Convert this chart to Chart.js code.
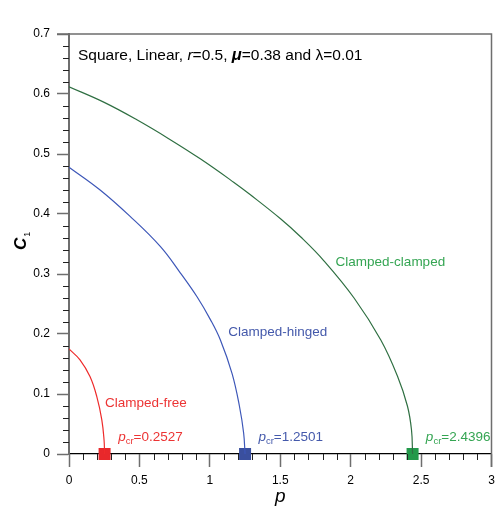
<!DOCTYPE html>
<html lang="en">
<head>
    <meta charset="UTF-8">
    <title>critical load curves</title>
    <style>
        body { margin: 0; background: #fff; overflow: hidden; }
        #wrap { width: 500px; height: 514px; }
    </style>
</head>
<body>
    <div id="wrap"><canvas id="myChart"></canvas></div>

    <script src="https://cdn.jsdelivr.net/npm/chart.js"></script>
    <script>
        // values
        const pFree = [0, 0.078, 0.149, 0.197, 0.233, 0.249, 0.2527];
        const cFree = [0.175, 0.157, 0.129, 0.096, 0.057, 0.023, 0];

        const pHinged = [0, 0.221, 0.434, 0.648, 0.79, 0.909, 1.004, 1.075, 1.158, 1.21, 1.24, 1.2501];
        const cHinged = [0.478, 0.44, 0.396, 0.346, 0.302, 0.262, 0.224, 0.19, 0.134, 0.08, 0.035, 0];

        const pClamped = [0, 0.25, 0.482, 0.705, 0.932, 1.169, 1.288, 1.502, 1.644, 1.81, 2.024, 2.214, 2.332, 2.403, 2.432, 2.4396];
        const cClamped = [0.612, 0.586, 0.557, 0.526, 0.492, 0.453, 0.432, 0.392, 0.362, 0.322, 0.26, 0.19, 0.13, 0.08, 0.04, 0];

        const pCritical = [0.2527, 1.2501, 2.4396];
        const pcrText = ['=0.2527', '=1.2501', '=2.4396'];
        const names = ['Clamped-free', 'Clamped-hinged', 'Clamped-clamped'];

        const xTicks = [0, 0.5, 1, 1.5, 2, 2.5, 3];
        const yTicks = [0, 0.1, 0.2, 0.3, 0.4, 0.5, 0.6, 0.7];

        const lineCols = ['#ee2b2b', '#3d57b8', '#2f6f42'];
        const boxCols = ['#e8282b', '#3a4f9e', '#22994a'];
        const textCols = ['#ec3434', '#4459ab', '#35a553'];

        const FONT = 'Arial, "Liberation Sans", sans-serif';

        function pts(xs, ys) {
            return xs.map((x, i) => ({ x: x, y: ys[i] }));
        }

        let datasets = [
            { data: pts(pFree, cFree), borderColor: lineCols[0] },
            { data: pts(pHinged, cHinged), borderColor: lineCols[1] },
            { data: pts(pClamped, cClamped), borderColor: lineCols[2] },
        ].map(d => Object.assign(d, {
            showLine: true,
            borderWidth: 1.2,
            pointRadius: 0,
            tension: 0.4,
        }));

        pCritical.forEach((p, i) => {
            datasets.push({
                data: [{ x: p, y: 0 }],
                pointStyle: 'rect',
                pointRadius: 8.5,
                backgroundColor: boxCols[i],
                borderColor: boxCols[i],
                borderWidth: 0,
                clip: false,
            });
        });

        const noPad = () => ({ left: 0, top: 0, right: 0, bottom: 0 });

        // minor ticks, frame and the labels on the plot
        const extras = {
            id: 'extras',
            afterDraw(chart) {
                const c = chart.ctx;
                const xs = chart.scales.x, ys = chart.scales.y;
                const a = chart.chartArea;
                c.save();

                c.strokeStyle = '#222';
                c.lineWidth = 1;
                for (let i = 1; i < 30; i++) {
                    if (i % 5 == 0) continue;
                    const px = Math.round(xs.getPixelForValue(i / 10)) + 0.5;
                    c.beginPath(); c.moveTo(px, a.bottom); c.lineTo(px, a.bottom + 6); c.stroke();
                }
                for (let i = 1; i < 35; i++) {
                    if (i % 5 == 0) continue;
                    const py = Math.round(ys.getPixelForValue(i / 50)) + 0.5;
                    c.beginPath(); c.moveTo(a.left - 6, py); c.lineTo(a.left, py); c.stroke();
                }

                // top and right frame
                c.strokeStyle = '#6e6e6e';
                c.lineWidth = 1.5;
                c.beginPath();
                c.moveTo(a.left - 12, a.top);
                c.lineTo(a.right, a.top);
                c.lineTo(a.right, a.bottom + 13);
                c.stroke();

                // axis titles
                c.fillStyle = '#000';
                c.textBaseline = 'alphabetic';
                c.font = 'italic 19px ' + FONT;
                c.textAlign = 'center';
                c.fillText('p', (a.left + a.right) / 2, 502);

                c.save();
                c.translate(26, 250);
                c.rotate(-Math.PI / 2);
                c.textAlign = 'left';
                c.font = 'bold italic 17px ' + FONT;
                c.fillText('C', 0, 0);
                const w = c.measureText('C').width;
                c.font = '9px ' + FONT;
                c.fillText('1', w + 1, 4);
                c.restore();

                // header line
                c.textAlign = 'left';
                let x = 78;
                const base = 60;
                const parts = [
                    ['15.5px ', 'Square, Linear, '],
                    ['italic 15.5px ', 'r'],
                    ['15.5px ', '=0.5, '],
                    ['bold italic 16.5px ', '\u03bc'],
                    ['15.5px ', '=0.38 and \u03bb=0.01'],
                ];
                parts.forEach(([f, t]) => {
                    c.font = f + FONT;
                    c.fillText(t, x, base);
                    x += c.measureText(t).width;
                });

                // curve names
                const namePos = [[0.256, 0.078], [1.13, 0.196], [1.893, 0.313]];
                c.font = '13.5px ' + FONT;
                names.forEach((n, i) => {
                    c.fillStyle = textCols[i];
                    c.fillText(n, xs.getPixelForValue(namePos[i][0]), ys.getPixelForValue(namePos[i][1]));
                });

                // p_cr labels
                const pcrX = [0.349, 1.345, 2.534];
                pcrText.forEach((t, i) => {
                    c.fillStyle = textCols[i];
                    let px = xs.getPixelForValue(pcrX[i]);
                    const py = ys.getPixelForValue(0.022);
                    c.font = 'italic 13.5px ' + FONT;
                    c.fillText('p', px, py);
                    px += c.measureText('p').width;
                    c.font = '9.5px ' + FONT;
                    c.fillText('cr', px, py + 3);
                    px += c.measureText('cr').width;
                    c.font = '13.5px ' + FONT;
                    c.fillText(t, px, py);
                });

                c.restore();
            }
        };

        const ctx = document.getElementById('myChart');

        let chart = new Chart(ctx, {
            type: 'scatter',
            data: { datasets: datasets },
            options: {
                responsive: true,
                maintainAspectRatio: false,
                animation: false,
                layout: { padding: { top: 34, right: 4, left: 0, bottom: 0 } },
                plugins: {
                    legend: { display: false },
                    tooltip: { enabled: false },
                },
                scales: {
                    x: {
                        type: 'linear',
                        min: 0,
                        max: 3,
                        afterFit: s => { s.height = 60; s.getPadding = noPad; },
                        afterBuildTicks: s => { s.ticks = xTicks.map(v => ({ value: v })); },
                        grid: {
                            drawOnChartArea: false,
                            tickLength: 13,
                            tickColor: '#6e6e6e',
                            tickWidth: 1.5,
                        },
                        border: { color: '#000', width: 1.2 },
                        ticks: {
                            color: '#000',
                            padding: 6,
                            maxRotation: 0,
                            callback: v => String(v),
                            font: { family: FONT, size: 12 },
                        },
                    },
                    y: {
                        type: 'linear',
                        min: 0,
                        max: 0.7,
                        afterFit: s => { s.width = 69; s.getPadding = noPad; },
                        afterBuildTicks: s => { s.ticks = yTicks.map(v => ({ value: v })); },
                        grid: {
                            drawOnChartArea: false,
                            tickLength: 12,
                            tickColor: '#6e6e6e',
                            tickWidth: 1.5,
                        },
                        border: { color: '#6e6e6e', width: 2 },
                        ticks: {
                            color: '#000',
                            padding: 7,
                            callback: v => String(v),
                            font: { family: FONT, size: 12 },
                        },
                    },
                },
            },
            plugins: [extras],
        });
    </script>
</body>
</html>
